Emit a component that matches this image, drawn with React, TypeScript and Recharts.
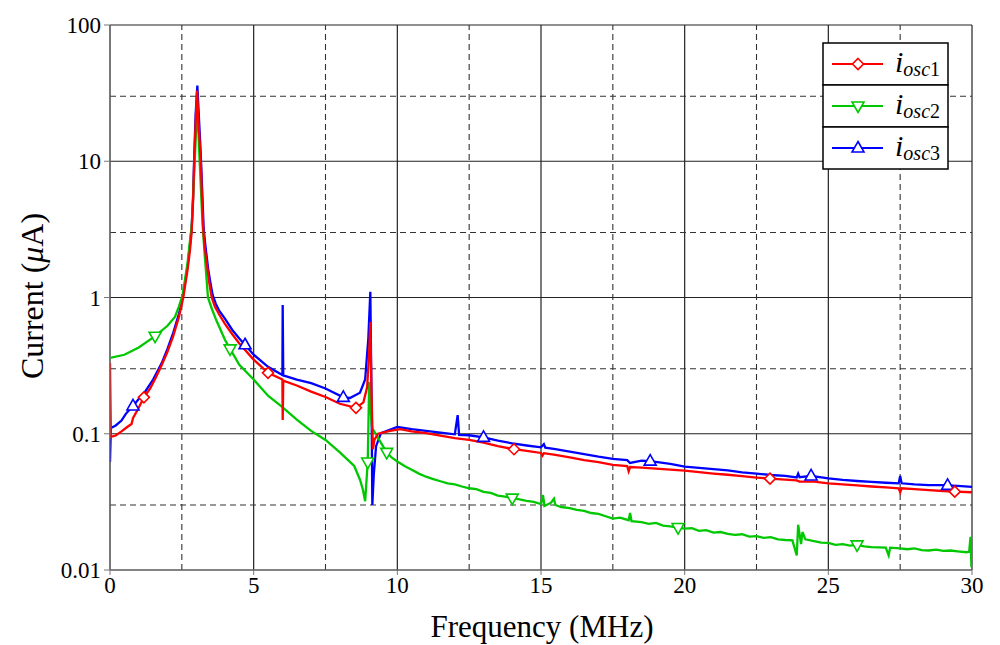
import React from 'react';
import { LineChart, Line, XAxis, YAxis, CartesianGrid, ReferenceLine, Label } from 'recharts';

const FONT = '"Liberation Serif", "Times New Roman", Times, serif';

const xTicks = [0, 5, 10, 15, 20, 25, 30];
const xMinor = [2.5, 7.5, 12.5, 17.5, 22.5, 27.5];
const yTicks = [0.01, 0.1, 1, 10, 100];
const yMinor = [0.03, 0.3, 3, 30];

// [frequency MHz, current uA]
const osc1: [number, number][] = [
  [0, 0.33], [0.03, 0.095], [0.2, 0.097], [0.4, 0.104], [0.6, 0.112], [0.75, 0.118], [0.8, 0.13],
  [1.0, 0.155], [1.18, 0.185], [1.4, 0.215], [1.6, 0.26], [1.8, 0.32], [2.0, 0.4], [2.2, 0.52],
  [2.4, 0.72], [2.55, 1.0], [2.7, 1.6], [2.78, 2.2], [2.84, 3.0], [2.89, 5.0], [2.93, 10], [2.98, 19],
  [3.03, 33], [3.08, 19], [3.12, 14], [3.16, 10], [3.2, 5.5], [3.25, 3.0], [3.3, 2.3], [3.38, 1.7],
  [3.45, 1.3], [3.54, 1.0], [3.65, 0.86], [3.8, 0.75], [4.0, 0.64], [4.25, 0.54], [4.5, 0.46],
  [5.0, 0.35], [5.5, 0.28], [6.0, 0.25], [6.01, 0.126], [6.03, 0.245], [6.5, 0.226], [7.0, 0.204],
  [7.5, 0.186], [8.0, 0.166], [8.56, 0.155], [8.82, 0.17], [8.95, 0.22], [9.02, 0.4], [9.06, 0.66],
  [9.1, 0.2], [9.15, 0.077], [9.2, 0.09], [9.33, 0.1], [9.75, 0.105], [10.1, 0.108], [10.5, 0.104],
  [11.0, 0.101], [11.5, 0.097], [12.0, 0.093], [12.5, 0.09], [13.0, 0.086], [13.5, 0.081],
  [14.06, 0.077], [14.5, 0.075], [15.0, 0.0723], [15.05, 0.069], [15.1, 0.072], [15.5, 0.07],
  [16.0, 0.067], [16.5, 0.064], [17.0, 0.062], [17.5, 0.059], [18.0, 0.058], [18.05, 0.053],
  [18.1, 0.057], [18.5, 0.0565], [19.0, 0.0555], [19.5, 0.0545], [20.0, 0.0536], [20.5, 0.0522],
  [21.0, 0.051], [21.5, 0.05], [22.0, 0.0488], [22.5, 0.0477], [22.97, 0.0468], [23.5, 0.046],
  [23.9, 0.0455], [24.0, 0.0445], [24.5, 0.0445], [25.0, 0.0433], [25.5, 0.0425], [26.0, 0.0418],
  [26.5, 0.041], [27.0, 0.0404], [27.45, 0.0398], [27.5, 0.0372], [27.55, 0.0398], [28.0, 0.0392],
  [28.5, 0.0386], [29.0, 0.038], [29.4, 0.0376], [30.0, 0.0372],
];

const osc2: [number, number][] = [
  [0, 0.36], [0.5, 0.38], [1.0, 0.43], [1.57, 0.52], [2.0, 0.62], [2.26, 0.72], [2.4, 0.86],
  [2.53, 1.05], [2.7, 1.8], [2.85, 3.5], [2.95, 10], [3.0, 18], [3.03, 28], [3.07, 18], [3.12, 10],
  [3.22, 3.5], [3.3, 2.0], [3.41, 1.0], [3.55, 0.82], [3.7, 0.68], [4.0, 0.49], [4.18, 0.42],
  [4.5, 0.32], [5.0, 0.25], [5.5, 0.19], [6.0, 0.157], [6.5, 0.127], [7.0, 0.105], [7.5, 0.09],
  [8.0, 0.073], [8.5, 0.058], [8.7, 0.046], [8.8, 0.039], [8.88, 0.032], [8.97, 0.062], [9.02, 0.24],
  [9.06, 0.16], [9.12, 0.11], [9.25, 0.1], [9.4, 0.088], [9.63, 0.073], [9.8, 0.067], [10.0, 0.0626],
  [10.25, 0.058], [10.5, 0.0545], [10.75, 0.051], [11.0, 0.0484], [11.25, 0.0465], [11.5, 0.0448],
  [11.75, 0.0432], [12.0, 0.0425], [12.25, 0.041], [12.5, 0.0398], [12.75, 0.0392], [13.0, 0.0375],
  [13.25, 0.0368], [13.5, 0.0352], [13.75, 0.0345], [14.0, 0.0337], [14.25, 0.033], [14.5, 0.0322],
  [14.75, 0.0316], [15.0, 0.0305], [15.07, 0.0355], [15.12, 0.0295], [15.35, 0.0312], [15.45, 0.0334],
  [15.5, 0.03], [15.7, 0.029], [16.0, 0.0285], [16.25, 0.0276], [16.5, 0.0272], [16.75, 0.0262],
  [17.0, 0.0258], [17.25, 0.0248], [17.5, 0.0238], [17.75, 0.0242], [18.05, 0.0232], [18.1, 0.0262],
  [18.15, 0.0228], [18.5, 0.0225], [18.75, 0.0218], [19.0, 0.0222], [19.25, 0.0212], [19.5, 0.0209],
  [19.77, 0.0205], [20.0, 0.0201], [20.25, 0.0203], [20.5, 0.0194], [20.75, 0.0196], [21.0, 0.0188],
  [21.25, 0.019], [21.5, 0.0184], [21.75, 0.0181], [22.0, 0.0183], [22.25, 0.0176], [22.5, 0.0177],
  [22.75, 0.0172], [23.0, 0.0174], [23.25, 0.0168], [23.5, 0.0166], [23.75, 0.0165], [23.9, 0.0128],
  [23.95, 0.0215], [24.05, 0.0155], [24.1, 0.019], [24.2, 0.0168], [24.5, 0.0163], [24.75, 0.0159],
  [25.0, 0.0158], [25.25, 0.0153], [25.5, 0.0155], [25.75, 0.0151], [26.0, 0.0153], [26.25, 0.0149],
  [26.5, 0.0147], [27.0, 0.0146], [27.1, 0.0128], [27.15, 0.0146], [27.5, 0.0144], [27.75, 0.0142],
  [28.0, 0.0144], [28.25, 0.014], [28.5, 0.0139], [28.75, 0.0141], [29.0, 0.0138], [29.25, 0.0139],
  [29.5, 0.0137], [29.8, 0.0135], [29.9, 0.0136], [29.95, 0.0175], [29.98, 0.0105], [30.0, 0.012],
];

const osc3: [number, number][] = [
  [0, 0.062], [0.03, 0.11], [0.2, 0.115], [0.4, 0.125], [0.55, 0.14], [0.8, 0.16], [1.0, 0.18],
  [1.2, 0.2], [1.5, 0.25], [1.8, 0.33], [2.0, 0.42], [2.2, 0.55], [2.4, 0.76], [2.55, 1.05],
  [2.7, 1.7], [2.78, 2.4], [2.84, 3.2], [2.89, 5.4], [2.93, 10.5], [2.98, 22], [3.04, 36], [3.09, 22],
  [3.13, 15], [3.16, 11], [3.21, 6], [3.26, 3.2], [3.32, 2.4], [3.42, 1.6], [3.49, 1.3], [3.57, 1.05],
  [3.68, 0.9], [3.8, 0.8], [4.0, 0.7], [4.25, 0.58], [4.5, 0.5], [4.7, 0.45], [5.0, 0.38],
  [5.5, 0.31], [6.0, 0.27], [6.01, 0.88], [6.03, 0.268], [6.5, 0.25], [7.0, 0.235], [7.5, 0.215],
  [8.12, 0.185], [8.35, 0.183], [8.7, 0.2], [8.88, 0.25], [8.99, 0.5], [9.06, 1.1], [9.1, 0.2],
  [9.13, 0.03], [9.18, 0.05], [9.26, 0.081], [9.43, 0.101], [10.0, 0.112], [10.5, 0.108],
  [11.0, 0.105], [11.5, 0.102], [12.0, 0.099], [12.1, 0.137], [12.15, 0.098], [12.5, 0.0975],
  [13.0, 0.094], [13.5, 0.089], [14.0, 0.085], [14.5, 0.082], [15.0, 0.0795], [15.1, 0.084],
  [15.15, 0.079], [15.5, 0.077], [16.0, 0.074], [16.5, 0.071], [17.0, 0.068], [17.5, 0.0655],
  [18.0, 0.064], [18.1, 0.061], [18.5, 0.0635], [18.8, 0.063], [19.5, 0.06], [20.0, 0.0573],
  [20.5, 0.0562], [21.0, 0.055], [21.5, 0.0538], [22.0, 0.052], [22.5, 0.051], [23.0, 0.0498],
  [23.5, 0.049], [23.9, 0.0478], [23.95, 0.051], [24.0, 0.048], [24.4, 0.049], [25.0, 0.047],
  [25.5, 0.0458], [26.0, 0.045], [26.5, 0.0443], [27.0, 0.0437], [27.45, 0.0433], [27.5, 0.049],
  [27.55, 0.0433], [28.0, 0.0425], [28.5, 0.042], [29.0, 0.042], [29.15, 0.0418], [29.5, 0.0414],
  [30.0, 0.0407],
];

const osc1Marks = [1.18, 5.5, 8.56, 14.06, 22.97, 29.4];
const osc2Marks = [1.57, 4.18, 8.97, 9.63, 14.0, 19.77, 26.0];
const osc3Marks = [0.8, 4.7, 8.12, 13.0, 18.8, 24.4, 29.15];

const toRows = (pts: [number, number][]) => pts.map(([x, y]) => ({ x, y }));

type Kind = 'diamond' | 'down' | 'up';

const MarkerShape = ({ kind, cx, cy, color }: { kind: Kind; cx: number; cy: number; color: string }) => {
  let pts = '';
  if (kind === 'diamond') pts = `${cx},${cy - 5.5} ${cx + 5.5},${cy} ${cx},${cy + 5.5} ${cx - 5.5},${cy}`;
  else if (kind === 'up') pts = `${cx},${cy - 6.5} ${cx + 6},${cy + 4} ${cx - 6},${cy + 4}`;
  else pts = `${cx},${cy + 6.5} ${cx + 6},${cy - 4} ${cx - 6},${cy - 4}`;
  return <polygon points={pts} fill="#fff" stroke={color} strokeWidth={1.6} />;
};

const makeDot = (marks: number[], kind: Kind, color: string) => (p: any) => {
  const { cx, cy, payload, index } = p;
  if (!payload || !marks.includes(payload.x) || cx == null || cy == null) return <g key={`n${index}`} />;
  return (
    <g key={`m${index}`}>
      <MarkerShape kind={kind} cx={cx} cy={cy} color={color} />
    </g>
  );
};

const RED = '#ff0000';
const GREEN = '#00c800';
const BLUE = '#0000ff';

const legendItems: { sub: string; kind: Kind; color: string }[] = [
  { sub: '1', kind: 'diamond', color: RED },
  { sub: '2', kind: 'down', color: GREEN },
  { sub: '3', kind: 'up', color: BLUE },
];

const ChartLegend = () => (
  <svg width={128} height={128} style={{ position: 'absolute', left: 822, top: 42 }}>
    {legendItems.map((it, i) => {
      const y0 = 1 + i * 42;
      const cy = y0 + 21;
      return (
        <g key={it.sub}>
          <rect x={1} y={y0} width={125} height={42} fill="#fff" stroke="#000" strokeWidth={1.5} />
          <line x1={10} x2={61} y1={cy} y2={cy} stroke={it.color} strokeWidth={2} />
          <MarkerShape kind={it.kind} cx={36} cy={cy} color={it.color} />
          <text x={73} y={cy + 8} fontFamily={FONT} fill="#000">
            <tspan fontStyle="italic" fontSize={30}>i</tspan>
            <tspan fontStyle="italic" fontSize={20} dy={4}>osc</tspan>
            <tspan fontSize={20}>{it.sub}</tspan>
          </text>
        </g>
      );
    })}
  </svg>
);

export default function App() {
  const tickStyle = { fill: '#000', fontSize: 23, fontFamily: FONT };
  return (
    <div style={{ position: 'absolute', left: 0, top: 0, width: 1000, height: 645, background: '#fff' }}>
      <LineChart width={1000} height={645} margin={{ top: 25, right: 28, bottom: 0, left: 0 }}>
        <CartesianGrid stroke="#222" strokeWidth={1.2} />
        {xMinor.map((v) => (
          <ReferenceLine key={`x${v}`} x={v} stroke="#333" strokeWidth={1.1} strokeDasharray="6 4" />
        ))}
        {yMinor.map((v) => (
          <ReferenceLine key={`y${v}`} y={v} stroke="#333" strokeWidth={1.1} strokeDasharray="6 4" />
        ))}
        <XAxis
          type="number"
          dataKey="x"
          domain={[0, 30]}
          ticks={xTicks}
          allowDataOverflow
          height={75}
          tick={tickStyle}
          tickSize={5}
          tickMargin={2}
          axisLine={{ stroke: '#777' }}
          tickLine={{ stroke: '#777' }}
        >
          <Label
            content={() => (
              <text x={542} y={637} textAnchor="middle" fontFamily={FONT} fontSize={31} fill="#000">
                Frequency (MHz)
              </text>
            )}
          />
        </XAxis>
        <YAxis
          type="number"
          dataKey="y"
          scale="log"
          domain={[0.01, 100]}
          ticks={yTicks}
          allowDataOverflow
          width={110}
          tick={tickStyle}
          tickSize={6}
          tickMargin={3}
          axisLine={{ stroke: '#777' }}
          tickLine={{ stroke: '#777' }}
        >
          <Label
            content={() => (
              <text
                x={43}
                y={296}
                transform="rotate(-90 43 296)"
                textAnchor="middle"
                fontFamily={FONT}
                fontSize={32}
                fill="#000"
              >
                Current (<tspan fontStyle="italic">μ</tspan>A)
              </text>
            )}
          />
        </YAxis>
        <Line
          data={toRows(osc3)}
          dataKey="y"
          type="linear"
          stroke={BLUE}
          strokeWidth={2.3}
          dot={makeDot(osc3Marks, 'up', BLUE)}
          activeDot={false}
          isAnimationActive={false}
        />
        <Line
          data={toRows(osc2)}
          dataKey="y"
          type="linear"
          stroke={GREEN}
          strokeWidth={2.3}
          dot={makeDot(osc2Marks, 'down', GREEN)}
          activeDot={false}
          isAnimationActive={false}
        />
        <Line
          data={toRows(osc1)}
          dataKey="y"
          type="linear"
          stroke={RED}
          strokeWidth={2.3}
          dot={makeDot(osc1Marks, 'diamond', RED)}
          activeDot={false}
          isAnimationActive={false}
        />
      </LineChart>
      <ChartLegend />
    </div>
  );
}
